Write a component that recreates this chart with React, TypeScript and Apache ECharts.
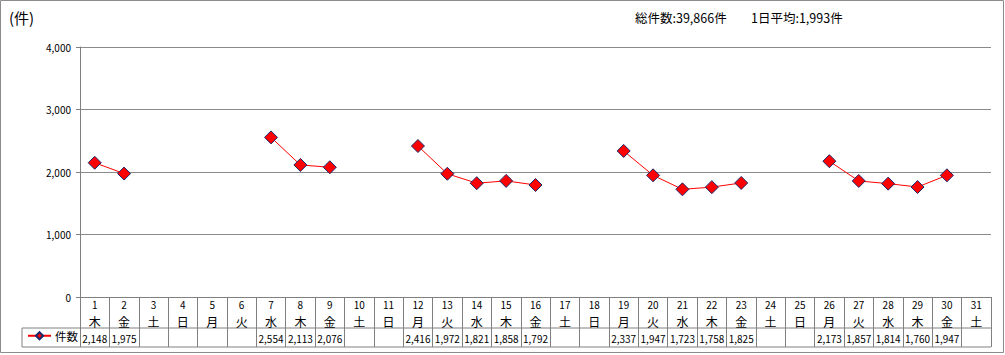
import React, { useEffect, useRef } from "react";
import * as echarts from "echarts";

const days: string[] = ["1","2","3","4","5","6","7","8","9","10","11","12","13","14","15","16","17","18","19","20","21","22","23","24","25","26","27","28","29","30","31"];
const weekdays: string[] = ["木","金","土","日","月","火","水","木","金","土","日","月","火","水","木","金","土","日","月","火","水","木","金","土","日","月","火","水","木","金","土"];
const counts: (number | null)[] = [2148,1975,null,null,null,null,2554,2113,2076,null,null,2416,1972,1821,1858,1792,null,null,2337,1947,1723,1758,1825,null,null,2173,1857,1814,1760,1947,null];
const seriesName = "件数";
const yTicks = { min: 0, max: 4000, interval: 1000 };

const FONT = "'Noto Sans CJK JP', 'Noto Sans', sans-serif";
const fmt = (v: number) => v.toLocaleString("en-US");

export default function App() {
  const ref = useRef<HTMLDivElement>(null);
  useEffect(() => {
    if (!ref.current) return;
    const chart = echarts.init(ref.current, undefined, { renderer: "svg" });
    const valid = counts.filter((v): v is number => v !== null);
    const total = valid.reduce((a, b) => a + b, 0);
    const avg = Math.round(total / valid.length);
    const cats = days.map((d, i) => String(i));
    chart.setOption({
      animation: false,
      textStyle: { fontFamily: FONT },
      grid: { left: 80, right: 14, top: 47, bottom: 58, containLabel: false },
      legend: {
        left: 27,
        top: 330,
        padding: 0,
        itemWidth: 23,
        itemHeight: 9,
        itemGap: 4,
        textStyle: { fontSize: 11.5, color: "#000", fontFamily: FONT, padding: [0, 0, 0, -1] },
        data: [seriesName],
      },
      xAxis: {
        type: "category",
        data: cats,
        boundaryGap: true,
        axisLine: { show: true, lineStyle: { color: "#808080", width: 1 } },
        axisTick: { show: true, interval: 0, length: 50, lineStyle: { color: "#808080" } },
        axisLabel: {
          interval: 0,
          margin: -1,
          formatter: (v: string) => {
            const i = Number(v);
            const c = counts[i];
            return `{d|${days[i]}}\n{w|${weekdays[i]}}\n{v|${c === null ? " " : fmt(c)}}`;
          },
          rich: {
            d: { fontSize: 10, lineHeight: 17, color: "#000", fontFamily: FONT },
            w: { fontSize: 12, lineHeight: 17, color: "#000", fontFamily: FONT },
            v: { fontSize: 10, lineHeight: 17, color: "#000", fontFamily: FONT },
          },
        },
        splitLine: { show: false },
      },
      yAxis: {
        type: "value",
        min: yTicks.min,
        max: yTicks.max,
        interval: yTicks.interval,
        axisLine: { show: true, lineStyle: { color: "#808080" } },
        axisTick: { show: true, length: 4, lineStyle: { color: "#808080" } },
        axisLabel: { margin: 9, fontSize: 10, color: "#000", fontFamily: FONT, formatter: (v: number) => fmt(v) },
        splitLine: { show: true, lineStyle: { color: "#8a8a8a", width: 1 } },
      },
      series: [
        {
          name: seriesName,
          type: "line",
          data: counts,
          connectNulls: false,
          symbol: "diamond",
          symbolSize: 13,
          lineStyle: { color: "#ff0000", width: 1 },
          itemStyle: { color: "#ff0000", borderColor: "#1a2a6c", borderWidth: 1 },
        },
      ],
      graphic: [
        { type: "rect", shape: { x: 0.5, y: 0.5, width: 1003, height: 352 }, style: { fill: "none", stroke: "#8c8c8c", lineWidth: 1 }, silent: true },
        { type: "line", shape: { x1: 22, y1: 328, x2: 991, y2: 328 }, style: { stroke: "#808080", lineWidth: 1 }, silent: true },
        { type: "line", shape: { x1: 22, y1: 347, x2: 991, y2: 347 }, style: { stroke: "#808080", lineWidth: 1 }, silent: true },
        { type: "line", shape: { x1: 22, y1: 328, x2: 22, y2: 347 }, style: { stroke: "#808080", lineWidth: 1 }, silent: true },
        { type: "text", x: 9, y: 17, style: { text: "(件)", fontSize: 15, fill: "#000", fontFamily: FONT, verticalAlign: "middle" } },
        { type: "text", x: 635, y: 17, style: { text: `総件数:${fmt(total)}件`, fontSize: 12.5, fill: "#000", fontFamily: FONT, verticalAlign: "middle" } },
        { type: "text", x: 751, y: 17, style: { text: `1日平均:${fmt(avg)}件`, fontSize: 12.5, fill: "#000", fontFamily: FONT, verticalAlign: "middle" } },
      ],
    });
    return () => chart.dispose();
  }, []);
  return <div ref={ref} style={{ position: "fixed", left: 0, top: 0, width: 1005, height: 355, background: "#fff" }} />;
}
